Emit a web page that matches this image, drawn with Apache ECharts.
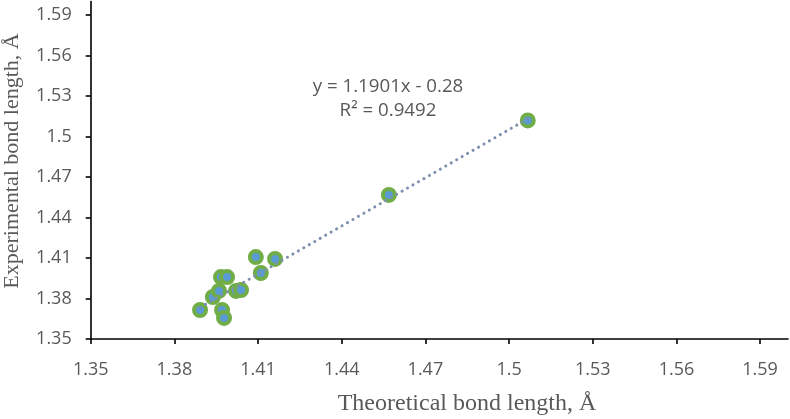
<!DOCTYPE html>
<html>
<head>
<meta charset="utf-8">
<script src="https://cdn.jsdelivr.net/npm/echarts@6/dist/echarts.min.js"></script>
<style>
  html, body { margin: 0; padding: 0; background: #fff; }
  #chart { width: 790px; height: 419px; }
</style>
</head>
<body>
<div id="chart"></div>
<script>
// ---- data ----
const theoreticalLengths = [1.3892, 1.3938, 1.3960, 1.3967, 1.3989, 1.3971, 1.3978, 1.4021, 1.4039, 1.4092, 1.4110, 1.4161, 1.4569, 1.5067];
const experimentalLengths = [1.3715, 1.3811, 1.3856, 1.3959, 1.3959, 1.3715, 1.3656, 1.3856, 1.3863, 1.4107, 1.3989, 1.4093, 1.4567, 1.5119];
const tickValues = [1.35, 1.38, 1.41, 1.44, 1.47, 1.5, 1.53, 1.56, 1.59];
const trendSlope = 1.1901;
const trendIntercept = -0.28;
const equationLabel = 'y = 1.1901x - 0.28';
const r2Label = 'R\u00B2 = 0.9492';
const xTitle = 'Theoretical bond length, \u00C5';
const yTitle = 'Experimental bond length, \u00C5';

const points = theoreticalLengths.map((x, i) => [x, experimentalLengths[i]]);
const xMin = Math.min(...theoreticalLengths);
const xMax = Math.max(...theoreticalLengths);
const trendPoints = [xMin, xMax].map(x => [x, trendSlope * x + trendIntercept]);

const labelColor = '#595959';
const axisCommon = {
  type: 'value',
  min: 1.35,
  max: 1.6,
  interval: 0.03,
  splitLine: { show: false },
  axisLine: { show: true, onZero: false, lineStyle: { color: '#000', width: 1.6 } },
  axisTick: { show: true, length: 5, customValues: tickValues, lineStyle: { color: '#000', width: 1.6 } },
  axisLabel: {
    customValues: tickValues,
    color: labelColor,
    fontFamily: 'Open Sans',
    fontSize: 18,
    formatter: v => (v > 1.595 ? '' : String(+v.toFixed(2)))
  }
};

const chart = echarts.init(document.getElementById('chart'), null, { renderer: 'canvas' });
chart.setOption({
  animation: false,
  backgroundColor: '#fff',
  grid: { left: 90.7, right: 2, top: 1.5, bottom: 80 },
  xAxis: Object.assign({}, axisCommon, {
    axisLabel: Object.assign({}, axisCommon.axisLabel, { margin: 22 })
  }),
  yAxis: Object.assign({}, axisCommon, {
    axisLabel: Object.assign({}, axisCommon.axisLabel, { margin: 19 })
  }),
  graphic: [
    { type: 'text', x: 467, y: 404, style: { text: xTitle, font: '24px "Liberation Serif"', fill: labelColor, align: 'center', verticalAlign: 'middle' } },
    { type: 'text', x: 12, y: 161, rotation: Math.PI / 2, style: { text: yTitle, font: '22px "Liberation Serif"', fill: labelColor, align: 'center', verticalAlign: 'middle' } },
    { type: 'text', x: 388, y: 87, style: { text: equationLabel, font: '18.7px "Open Sans"', fill: labelColor, align: 'center', verticalAlign: 'middle' } },
    { type: 'text', x: 388, y: 111, style: { text: r2Label, font: '18.7px "Open Sans"', fill: labelColor, align: 'center', verticalAlign: 'middle' } }
  ],
  series: [
    {
      type: 'scatter',
      data: points,
      symbol: 'circle',
      symbolSize: 12,
      itemStyle: { color: '#5B9BD5', borderColor: '#70AD47', borderWidth: 4, opacity: 1 },
      z: 2
    },
    {
      type: 'line',
      data: trendPoints,
      showSymbol: false,
      symbol: 'none',
      lineStyle: { color: '#7C8FAE', width: 3, type: [0.1, 6.2], cap: 'round' },
      z: 3,
      silent: true
    }
  ]
});
</script>
</body>
</html>
